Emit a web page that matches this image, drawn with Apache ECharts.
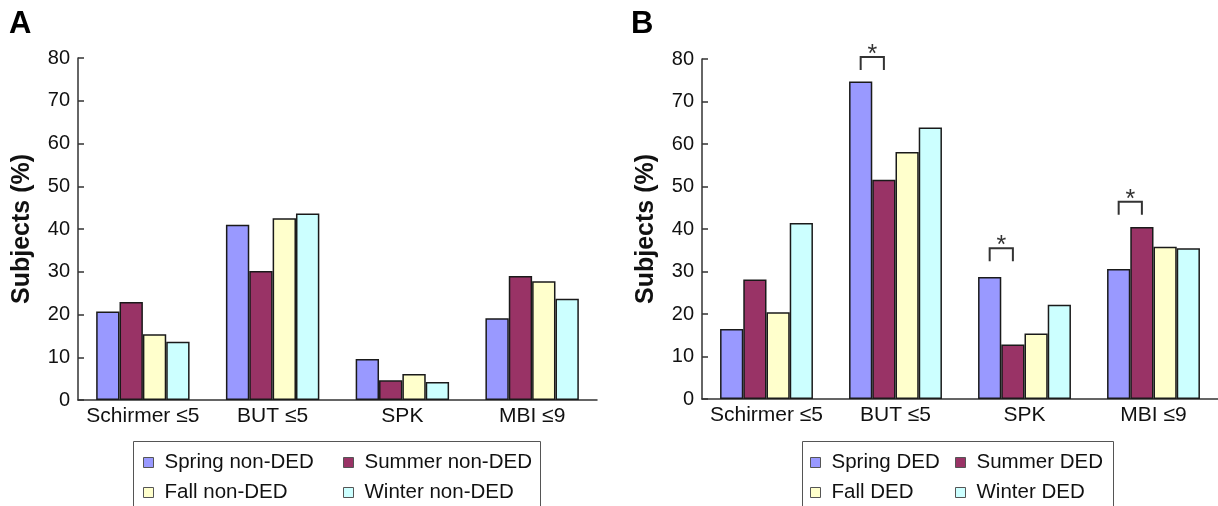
<!DOCTYPE html>
<html>
<head>
<meta charset="utf-8">
<script src="https://cdn.jsdelivr.net/npm/echarts@6/dist/echarts.min.js"></script>
<style>html,body{margin:0;padding:0;background:#fff}#c{width:1218px;height:506px}</style>
</head>
<body>
<div id="c"></div>
<script>
const categories = ['Schirmer ≤5', 'BUT ≤5', 'SPK', 'MBI ≤9'];
const yTicks = [0, 10, 20, 30, 40, 50, 60, 70, 80];

const namesA = ['Spring non-DED', 'Summer non-DED', 'Fall non-DED', 'Winter non-DED'];
const springA = [20.7, 41.0, 9.6, 19.1];
const summerA = [22.9, 30.2, 4.6, 29.0];
const fallA   = [15.4, 42.5, 6.1, 27.8];
const winterA = [13.6, 43.6, 4.2, 23.7];

const namesB = ['Spring DED', 'Summer DED', 'Fall DED', 'Winter DED'];
const springB = [16.5, 74.7, 28.7, 30.6];
const summerB = [28.1, 51.6, 12.8, 40.5];
const fallB   = [20.4, 58.1, 15.4, 35.8];
const winterB = [41.4, 63.9, 22.2, 35.5];

// significance brackets (panel B): category, bracket top value, label
const sigCategories = ['BUT ≤5', 'SPK', 'MBI ≤9'];
const sigTop = [80.5, 35.5, 46.4];
const sigLabel = ['*', '*', '*'];

const colors = ['#9999FF', '#993366', '#FFFFCC', '#CCFFFF'];
const FONT = '"Liberation Sans", Arial, sans-serif';
const GAP = '28%';

function barSeries(name, data, idx, color) {
  return {
    name: name, type: 'bar', data: data,
    xAxisIndex: idx, yAxisIndex: idx,
    barGap: '0%', barCategoryGap: GAP,
    itemStyle: { color: color, borderColor: '#1a1a1a', borderWidth: 1.5 },
    emphasis: { disabled: true },
    animation: false
  };
}

function xAxis(idx) {
  return {
    type: 'category', data: categories, gridIndex: idx,
    axisLine: { lineStyle: { color: '#333', width: 1.5 } },
    axisTick: { inside: true, length: 7, interval: 0, alignWithLabel: false, lineStyle: { color: '#333', width: 1.5 } },
    axisLabel: { color: '#111', fontSize: 21, fontFamily: FONT, margin: 6, interval: 0 }
  };
}
function yAxis(idx) {
  return {
    type: 'value', gridIndex: idx, min: yTicks[0], max: yTicks[yTicks.length - 1], interval: 10,
    name: 'Subjects (%)', nameLocation: 'middle', nameGap: 43, nameRotate: 90,
    nameTextStyle: { fontSize: 25, fontWeight: 'bold', fontFamily: FONT, color: '#111' },
    axisLine: { show: true, lineStyle: { color: '#333', width: 1.5 } },
    axisTick: { show: true, inside: true, length: 6, lineStyle: { color: '#333', width: 1.5 } },
    axisLabel: { color: '#111', fontSize: 20, fontFamily: FONT, margin: 8 },
    splitLine: { show: false }
  };
}

function legend(names, left) {
  return {
    orient: 'vertical', left: left, top: 452, padding: 0, itemGap: 9,
    itemWidth: 10, itemHeight: 10, icon: 'rect', selectedMode: false,
    data: names,
    itemStyle: { borderColor: '#555', borderWidth: 1 },
    textStyle: { fontSize: 20.5, fontFamily: FONT, color: '#111', padding: [0, 0, 0, 6] }
  };
}

const bracketData = sigCategories.map((c, i) => [categories.indexOf(c), sigTop[i], sigLabel[i]]);

const chart = echarts.init(document.getElementById('c'), null, { renderer: 'canvas' });
chart.setOption({
  animation: false,
  color: colors,
  grid: [
    { left: 78, top: 58, width: 519, height: 342 },
    { left: 702, top: 59, width: 516, height: 340 }
  ],
  xAxis: [xAxis(0), xAxis(1)],
  yAxis: [yAxis(0), yAxis(1)],
  legend: [
    legend([namesA[0], namesA[2]], 143),
    legend([namesA[1], namesA[3]], 343),
    legend([namesB[0], namesB[2]], 810),
    legend([namesB[1], namesB[3]], 955)
  ],
  graphic: [
    { type: 'text', left: 9, top: 9, style: { text: 'A', fontSize: 31, fontWeight: 'bold', fontFamily: FONT, fill: '#000' } },
    { type: 'text', left: 631, top: 9, style: { text: 'B', fontSize: 31, fontWeight: 'bold', fontFamily: FONT, fill: '#000' } },
    { type: 'rect', shape: { x: 133.5, y: 441.5, width: 407, height: 90 }, style: { fill: 'none', stroke: '#555', lineWidth: 1 } },
    { type: 'rect', shape: { x: 802.5, y: 441.5, width: 311, height: 90 }, style: { fill: 'none', stroke: '#555', lineWidth: 1 } }
  ],
  series: [
    barSeries(namesA[0], springA, 0, colors[0]),
    barSeries(namesA[1], summerA, 0, colors[1]),
    barSeries(namesA[2], fallA, 0, colors[2]),
    barSeries(namesA[3], winterA, 0, colors[3]),
    barSeries(namesB[0], springB, 1, colors[0]),
    barSeries(namesB[1], summerB, 1, colors[1]),
    barSeries(namesB[2], fallB, 1, colors[2]),
    barSeries(namesB[3], winterB, 1, colors[3]),
    {
      type: 'custom', xAxisIndex: 1, yAxisIndex: 1, data: bracketData, z: 10,
      silent: true,
      renderItem: function (params, api) {
        const c = api.coord([api.value(0), api.value(1)]);
        const bandW = api.size([1, 0])[0];
        const bw = bandW * (1 - 0.28) / 4;
        const x1 = c[0] - 1.5 * bw, x2 = c[0] - 0.5 * bw;
        const top = c[1], bot = c[1] + 13;
        return {
          type: 'group',
          children: [
            { type: 'polyline', shape: { points: [[x1, bot], [x1, top], [x2, top], [x2, bot]] },
              style: { stroke: '#333', lineWidth: 2, fill: 'none' } },
            { type: 'text', style: { text: bracketData[params.dataIndex][2], x: (x1 + x2) / 2, y: top - 2,
              align: 'center', verticalAlign: 'middle', fontSize: 25, fontFamily: FONT, fill: '#333' } }
          ]
        };
      }
    }
  ]
});
</script>
</body>
</html>
